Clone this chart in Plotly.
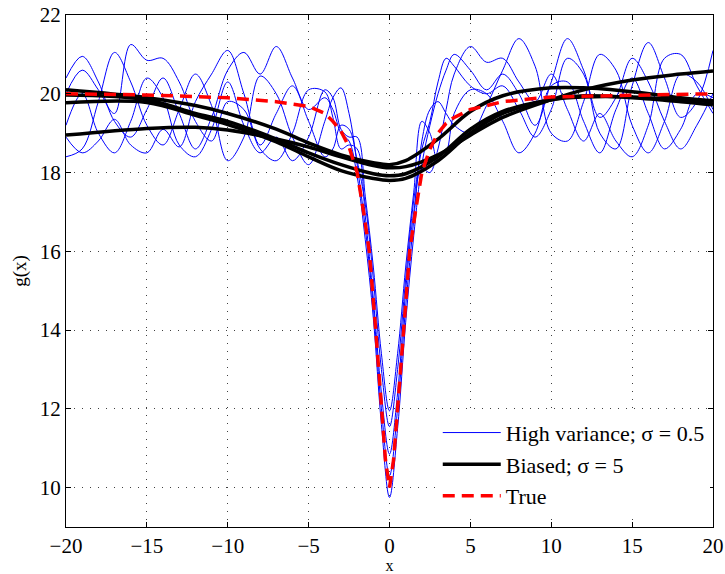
import plotly.graph_objects as go

# ---------------- data ----------------
x_hv = [-20, -19, -18, -17, -16, -15, -14, -13, -12, -11, -10, -9, -8, -7, -6, -5, -4,
        -3.5, -3, -2.5, -2, -1.5, -1, -0.5, 0, 0.5, 1, 1.5, 2, 2.5, 3, 3.5,
        4, 5, 6, 7, 8, 9, 10, 11, 12, 13, 14, 15, 16, 17, 18, 19, 20]

hv1 = [20.4, 20.95, 20.3, 19.3, 18.9, 19.6, 20.4, 19.5, 18.6, 19.4, 20.6, 21.05, 20.5, 21.2, 20.4, 19.6, 19.9,
       19.6, 19.0, 18.8, 17.9, 16.3, 14.3, 11.6, 9.75, 11.5, 14.2, 16.4, 18.2, 19.2, 20.0, 20.6,
       21.0, 20.6, 20.1, 20.5, 20.0, 19.2, 20.3, 21.4, 20.6, 19.4, 19.9, 20.9, 20.3, 19.3, 18.6, 19.2, 20.0]
hv2 = [18.4, 18.6, 19.8, 21.05, 20.3, 19.2, 18.7, 19.6, 20.5, 19.7, 18.3, 18.9, 20.45, 20.0, 18.9, 18.2, 19.3,
       19.9, 20.15, 19.5, 18.2, 16.6, 14.6, 12.0, 10.3, 12.0, 14.6, 16.8, 18.8, 19.6, 19.8, 19.5,
       19.2, 19.0, 19.7, 20.6, 21.4, 20.7, 19.0, 18.8, 19.8, 21.0, 20.6, 19.2, 18.5, 19.3, 20.5, 20.3, 19.6]
hv3 = [20.0, 20.6, 20.1, 19.5, 21.25, 20.85, 20.9, 20.3, 19.3, 18.8, 19.8, 19.6, 18.6, 18.3, 19.0, 20.1, 20.05,
       19.4, 18.6, 18.7, 18.6, 16.9, 14.8, 12.4, 10.85, 12.4, 15.0, 17.0, 18.1, 18.0, 18.6, 19.6,
       20.5, 21.2, 20.8, 20.9, 20.3, 19.8, 20.5, 19.6, 18.8, 19.5, 18.8, 18.4, 19.2, 20.9, 21.0, 20.2, 19.5]
hv4 = [18.9, 18.5, 18.8, 19.35, 18.7, 18.5, 19.1, 18.65, 19.8, 20.5, 21.1, 20.0, 18.7, 19.5, 20.2, 19.3, 18.4,
       18.6, 19.2, 19.1, 18.3, 17.2, 15.3, 13.0, 11.55, 13.0, 15.3, 17.3, 18.6, 19.3, 20.3, 20.9,
       20.7, 20.2, 20.0, 20.2, 19.6, 18.9, 19.6, 20.9, 20.5, 19.0, 18.6, 20.2, 21.3, 20.4, 19.4, 19.8, 21.1]
hv5 = [19.2, 20.0, 19.0, 18.5, 19.3, 20.4, 19.9, 18.7, 18.4, 19.1, 20.3, 19.2, 18.5, 18.9, 18.3, 18.9, 20.1,
       19.9, 19.1, 18.9, 18.9, 17.4, 15.6, 13.4, 11.95, 13.4, 15.6, 17.5, 19.3, 19.0, 18.3, 18.5,
       19.5, 20.1, 20.0, 19.3, 18.5, 19.0, 20.2, 20.3, 19.3, 18.5, 19.6, 20.4, 19.5, 18.6, 19.1, 20.0, 19.9]
high_variance = [hv1, hv2, hv3, hv4, hv5]

x_b = [-20, -15, -12, -10, -7, -5, -3, -1, 0, 1, 3, 5, 7, 10, 12, 15, 18, 20]
b1 = [18.95, 19.12, 19.15, 19.08, 18.85, 18.65, 18.4, 18.18, 18.12, 18.15, 18.45, 18.95, 19.4, 19.85, 20.1, 20.35, 20.5, 20.58]
b2 = [20.1, 19.9, 19.7, 19.5, 19.1, 18.75, 18.45, 18.25, 18.2, 18.3, 18.85, 19.55, 19.95, 20.15, 20.15, 20.05, 19.9, 19.82]
b3 = [19.97, 19.85, 19.5, 19.3, 18.85, 18.5, 18.2, 17.97, 17.92, 17.97, 18.4, 19.1, 19.55, 19.85, 19.92, 19.92, 19.85, 19.8]
b4 = [19.77, 19.78, 19.45, 19.22, 18.78, 18.4, 18.05, 17.85, 17.8, 17.85, 18.3, 19.0, 19.5, 19.85, 19.95, 19.9, 19.8, 19.72]
biased = [b1, b2, b3, b4]

x_true = [-20, -15, -10, -7, -5, -4, -3.5, -3, -2.5, -2, -1.6, -1.25, -0.85, -0.5, -0.25, 0,
          0.25, 0.5, 0.85, 1.25, 1.6, 2, 2.5, 3, 3.5, 4, 5, 7, 10, 15, 20]
y_true = [20.0, 19.97, 19.9, 19.8, 19.68, 19.5, 19.3, 19.05, 18.65, 18.0, 17.0, 16.0, 14.0, 12.0, 10.7, 10.0,
          10.7, 12.0, 14.0, 16.0, 17.0, 18.0, 18.6, 19.0, 19.25, 19.4, 19.6, 19.8, 19.92, 19.97, 20.0]

x_ticks = [-20, -15, -10, -5, 0, 5, 10, 15, 20]
x_ticktext = ["\u221220", "\u221215", "\u221210", "\u22125", "0", "5", "10", "15", "20"]
y_ticks = [10, 12, 14, 16, 18, 20, 22]

FONT = "Liberation Serif, Times New Roman, serif"

fig = go.Figure()
for i, ys in enumerate(high_variance):
    fig.add_trace(go.Scatter(x=x_hv, y=ys, mode="lines", line=dict(color="#0000ff", width=1, shape="spline", smoothing=1.0),
                             name="High variance; σ = 0.5", showlegend=(i == 0), legendgroup="hv"))
for i, ys in enumerate(biased):
    fig.add_trace(go.Scatter(x=x_b, y=ys, mode="lines", line=dict(color="black", width=3.5, shape="spline"),
                             name="Biased; σ = 5", showlegend=(i == 0), legendgroup="b"))
fig.add_trace(go.Scatter(x=x_true, y=y_true, mode="lines", line=dict(color="#ff0000", width=3.5, dash="12px,7px"),
                         name="True"))

axis_common = dict(showline=True, linecolor="black", linewidth=1, mirror="ticks", ticks="inside", ticklen=5,
                   tickcolor="black", showgrid=True, gridcolor="rgba(0,0,0,0.75)", griddash="1px,7px", gridwidth=1,
                   zeroline=False, automargin=False, tickfont=dict(family=FONT, size=21, color="black"))
fig.update_xaxes(range=[-20, 20], tickvals=x_ticks, ticktext=x_ticktext,
                 title=dict(text="x", font=dict(family=FONT, size=16, color="black"), standoff=0), **axis_common)
fig.update_yaxes(range=[9, 22], tickvals=y_ticks,
                 title=dict(text="g(x)", font=dict(family=FONT, size=19, color="black"), standoff=8), **axis_common)

fig.update_layout(width=725, height=574, margin=dict(l=66, r=12, t=15, b=47),
                  plot_bgcolor="white", paper_bgcolor="white",
                  font=dict(family=FONT, color="black"),
                  legend=dict(x=0.995, xanchor="right", y=0.02, yanchor="bottom", bgcolor="white", borderwidth=0,
                              font=dict(family=FONT, size=22, color="black"), tracegroupgap=0,
                              itemwidth=58))

fig.write_html("out.html")
